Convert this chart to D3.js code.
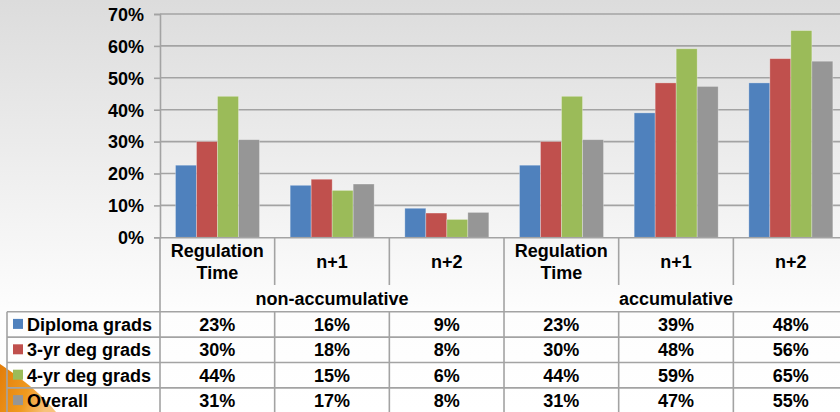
<!DOCTYPE html>
<html><head><meta charset="utf-8">
<script src="https://cdn.jsdelivr.net/npm/d3@7"></script>
<style>
html,body{margin:0;padding:0;background:#fff;}
svg{display:block;}
text{font-family:"Liberation Sans",Arial,sans-serif;font-weight:bold;font-size:18px;fill:#000;}
</style></head>
<body>
<svg id="chart" width="840" height="412"></svg>
<script>
const categories = ["Regulation Time","n+1","n+2","Regulation Time","n+1","n+2"];
const groups = ["non-accumulative","accumulative"];
const seriesNames = ["Diploma grads","3-yr deg grads","4-yr deg grads","Overall"];
const diploma = [22.6,16.3,9.1,22.6,39.0,48.4];
const threeYr = [30.0,18.2,7.6,30.0,48.4,56.0];
const fourYr = [44.2,14.7,5.6,44.2,59.1,64.8];
const overall = [30.6,16.7,7.8,30.6,47.3,55.2];
const yTicks = [0,10,20,30,40,50,60,70];
const colors = ["#4F81BD","#C0504D","#9BBB59","#969696"];

const seriesValues = [diploma, threeYr, fourYr, overall];

const svg = d3.select("#chart");
const defs = svg.append("defs");
const bg = defs.append("linearGradient").attr("id","bg").attr("x1",0).attr("y1",0).attr("x2",0).attr("y2",1);
bg.append("stop").attr("offset","0%").attr("stop-color","#dcdcdc");
bg.append("stop").attr("offset","75%").attr("stop-color","#fdfdfd");
bg.append("stop").attr("offset","100%").attr("stop-color","#ffffff");
const og = defs.append("linearGradient").attr("id","og").attr("x1",0).attr("y1",0).attr("x2",1).attr("y2",0.3);
og.append("stop").attr("offset","0%").attr("stop-color","#e27d0a");
og.append("stop").attr("offset","60%").attr("stop-color","#f09a1e");
og.append("stop").attr("offset","100%").attr("stop-color","#f7c27a");

svg.append("rect").attr("width",840).attr("height",412).attr("fill","url(#bg)");
svg.append("path").attr("d","M0,364 C18,376 40,392 56,412 L0,412 Z").attr("fill","url(#og)");

const plotLeft = 160, colW = 114.67;
const y = d3.scaleLinear().domain([0,70]).range([237.3,14]);
const x0 = d3.scaleBand().domain(d3.range(categories.length)).range([plotLeft, plotLeft + colW*categories.length]).padding(0);
const x1 = d3.scaleBand().domain(d3.range(seriesNames.length)).range([15.5, 99.5]).padding(0);

const lineColor = "#a3a3a3";
// gridlines
svg.append("g").selectAll("line").data(yTicks.slice(1)).join("line")
  .attr("x1",plotLeft).attr("x2",850).attr("y1",d=>y(d)).attr("y2",d=>y(d))
  .attr("stroke",lineColor).attr("stroke-width",1.6);

// y axis
const yAxis = d3.axisLeft(y).tickValues(yTicks).tickFormat(d=>d+"%").tickSize(6).tickPadding(10);
const ya = svg.append("g").attr("transform",`translate(${plotLeft},0)`).call(yAxis);
ya.select(".domain").attr("stroke",lineColor).attr("stroke-width",1.6);
ya.selectAll(".tick line").attr("stroke",lineColor).attr("stroke-width",1.6);
ya.selectAll(".tick text").style("font-family",'"Liberation Sans",Arial,sans-serif').style("font-weight","bold").style("font-size","18px").attr("fill","#000").attr("dy","0.35em");

// bars
const barG = svg.append("g");
seriesValues.forEach((vals,si)=>{
  barG.append("g").selectAll("rect").data(vals).join("rect")
    .attr("x",(d,i)=>x0(i)+x1(si))
    .attr("width",x1.bandwidth())
    .attr("y",d=>y(d))
    .attr("height",d=>y(0)-y(d))
    .attr("fill",colors[si])
    .attr("stroke","rgba(255,255,255,0.35)").attr("stroke-width",0.8);
});

// x axis line
svg.append("line").attr("x1",plotLeft).attr("x2",850).attr("y1",y(0)+0.5).attr("y2",y(0)+0.5)
  .attr("stroke",lineColor).attr("stroke-width",1.6);

// table structure
const rowTop = 311.7, rowH = 25.4, catBottom = 285, tableLeft = 7;
const tbl = svg.append("g");
// category vertical separators
tbl.selectAll("line.cv").data(d3.range(categories.length+1)).join("line")
  .attr("x1",i=>plotLeft+i*colW).attr("x2",i=>plotLeft+i*colW)
  .attr("y1",y(0)).attr("y2",catBottom)
  .attr("stroke",lineColor).attr("stroke-width",1.6);
// group separators through group row and data rows
const groupSize = 3;
tbl.selectAll("line.gv").data(d3.range(groups.length+1)).join("line")
  .attr("x1",i=>plotLeft+i*groupSize*colW).attr("x2",i=>plotLeft+i*groupSize*colW)
  .attr("y1",catBottom).attr("y2",rowTop)
  .attr("stroke",lineColor).attr("stroke-width",1.6);
// data column verticals
tbl.selectAll("line.dv").data(d3.range(categories.length+1)).join("line")
  .attr("x1",i=>plotLeft+i*colW).attr("x2",i=>plotLeft+i*colW)
  .attr("y1",rowTop).attr("y2",412)
  .attr("stroke",lineColor).attr("stroke-width",1.6);
// left border
tbl.append("line").attr("x1",tableLeft).attr("x2",tableLeft).attr("y1",rowTop).attr("y2",412)
  .attr("stroke",lineColor).attr("stroke-width",1.6);
// horizontal row lines
tbl.selectAll("line.h").data(d3.range(seriesNames.length+1)).join("line")
  .attr("x1",tableLeft).attr("x2",850)
  .attr("y1",i=>rowTop+i*rowH).attr("y2",i=>rowTop+i*rowH)
  .attr("stroke",lineColor).attr("stroke-width",1.6);

// category labels
categories.forEach((c,i)=>{
  const cx = x0(i)+colW/2;
  const words = c.split(" ");
  if(words.length>1){
    tbl.append("text").attr("x",cx).attr("y",257).attr("text-anchor","middle").text(words[0]);
    tbl.append("text").attr("x",cx).attr("y",278.5).attr("text-anchor","middle").text(words.slice(1).join(" "));
  } else {
    tbl.append("text").attr("x",cx).attr("y",261.5).attr("dy","0.35em").attr("text-anchor","middle").text(c);
  }
});
// group labels
groups.forEach((g,i)=>{
  tbl.append("text").attr("x",plotLeft+(i*groupSize+groupSize/2)*colW).attr("y",304.5)
    .attr("text-anchor","middle").text(g);
});
// data rows
seriesNames.forEach((s,si)=>{
  const cy = rowTop+si*rowH+rowH/2;
  tbl.append("rect").attr("x",13).attr("y",cy-5.5).attr("width",10).attr("height",10).attr("fill",colors[si]);
  tbl.append("text").attr("x",27).attr("y",cy).attr("dy","0.36em").text(s);
  seriesValues[si].forEach((v,i)=>{
    tbl.append("text").attr("x",x0(i)+colW/2).attr("y",cy).attr("dy","0.36em")
      .attr("text-anchor","middle").text(Math.round(v)+"%");
  });
});
</script>
</body></html>
